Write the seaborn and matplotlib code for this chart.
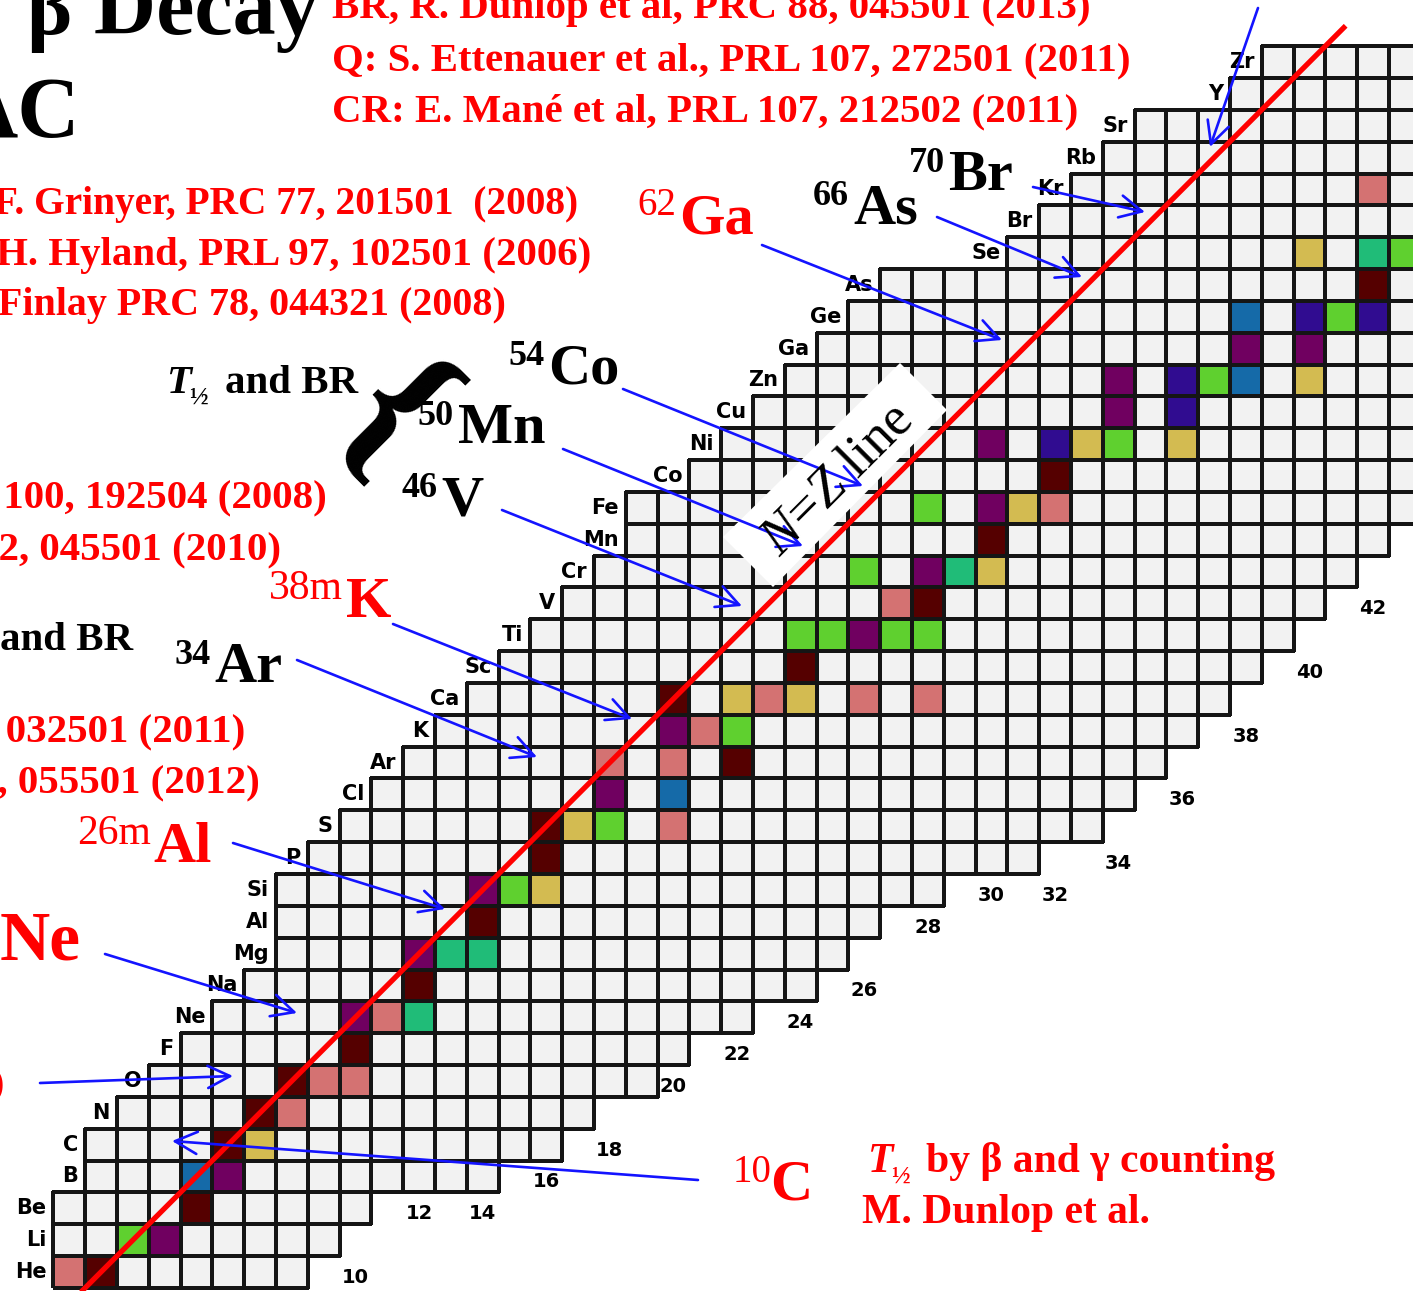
import matplotlib
matplotlib.use("Agg")  # headless
import matplotlib.pyplot as plt
import numpy as np
import pandas as pd
import seaborn as sns
from matplotlib.colors import ListedColormap, to_rgba
from matplotlib.patches import Polygon

# ---------------------------------------------------------------------------
# Chart of nuclides: one row per element Z, first/last neutron number N
# ---------------------------------------------------------------------------
ELEMENTS = ["He", "Li", "Be", "B", "C", "N", "O", "F", "Ne", "Na", "Mg", "Al",
            "Si", "P", "S", "Cl", "Ar", "K", "Ca", "Sc", "Ti", "V", "Cr", "Mn",
            "Fe", "Co", "Ni", "Cu", "Zn", "Ga", "Ge", "As", "Se", "Br", "Kr",
            "Rb", "Sr", "Y", "Zr"]
Z_VALUES = list(range(2, 41))
ROW_MIN_N = [1, 1, 1, 2, 2, 3, 4, 5, 6, 7, 8, 8, 8, 9, 10, 11, 12, 13, 14, 15,
             16, 17, 18, 19, 19, 21, 22, 23, 24, 25, 26, 27, 31, 32, 33, 34,
             35, 38, 39]
ROW_MAX_N = [8, 9, 10, 14, 16, 17, 19, 20, 22, 24, 25, 26, 28, 31, 33, 34, 35,
             36, 37, 38, 39, 40, 41, 42] + [44] * 15

# neutron-number labels along the lower edge: N and the row they sit on
NEUTRON_LABELS = [10, 12, 14, 16, 18, 20, 22, 24, 26, 28, 30, 32, 34, 36, 38, 40, 42]
NEUTRON_LABEL_ROW = [2, 4, 4, 5, 6, 8, 9, 10, 11, 13, 14, 14, 15, 17, 19, 21, 23]

# coloured cells, (Z, N)
PINK = [(2, 1), (7, 8), (8, 9), (8, 10), (10, 11), (16, 20), (18, 18), (18, 20),
        (19, 21), (20, 23), (20, 26), (20, 28), (23, 27), (26, 32), (36, 42)]
DARK = [(2, 2), (4, 5), (6, 6), (7, 7), (8, 8), (9, 10), (11, 12), (13, 14),
        (15, 16), (16, 16), (18, 22), (20, 20), (21, 24), (23, 28), (25, 30),
        (27, 32), (33, 42)]
PURPLE = [(3, 4), (5, 6), (10, 10), (12, 12), (14, 14), (17, 18), (19, 20),
          (22, 26), (24, 28), (26, 30), (28, 30), (29, 34), (30, 34), (31, 38),
          (31, 40)]
GREEN = [(3, 3), (14, 15), (16, 18), (19, 22), (22, 24), (22, 25), (22, 27),
         (22, 28), (24, 26), (26, 28), (28, 34), (30, 37), (32, 41), (34, 43)]
TEAL = [(10, 12), (12, 13), (12, 14), (24, 29), (34, 42)]
BLUE_CELLS = [(5, 5), (17, 20), (30, 38), (32, 38)]
INDIGO = [(28, 32), (29, 36), (30, 36), (32, 40), (32, 42)]
YELLOW = [(6, 7), (14, 16), (16, 17), (20, 22), (20, 24), (24, 30), (26, 31),
          (28, 33), (28, 36), (30, 40), (34, 40)]

CATEGORIES = [PINK, DARK, PURPLE, GREEN, TEAL, BLUE_CELLS, INDIGO, YELLOW]
CELL_COLORS = ["#f2f2f2", "#d47272", "#550000", "#700060", "#5fd02f",
               "#20bc78", "#156aa8", "#300c90", "#d3bb51"]

NZ_LINE = [1.34, 41.14]  # extent of the N = Z line, in N

# ---------------------------------------------------------------------------
# Geometry (pixels)
# ---------------------------------------------------------------------------
W, H, DPI = 1413, 1291, 100
X2_PX, Y2_PX = 101.0, 1272.0   # centre of cell N=2, Z=2
CW, CH = 31.8, 31.84           # cell size
RED = "#ff0000"
BLUE = "#1414ff"
GRID = "#151515"

# grid table
grid = np.full((42, 45), np.nan)
for z, lo, hi in zip(Z_VALUES, ROW_MIN_N, ROW_MAX_N):
    grid[z, lo:hi + 1] = 0
for code, cells in enumerate(CATEGORIES, start=1):
    for z, n in cells:
        grid[z, n] = code
df = pd.DataFrame(grid)

sns.set_theme(style="white")
plt.rcParams["font.family"] = ["Liberation Serif", "DejaVu Serif"]
plt.rcParams["mathtext.fontset"] = "custom"
plt.rcParams["mathtext.rm"] = "Liberation Serif"
plt.rcParams["mathtext.it"] = "Liberation Serif:italic"

fig = plt.figure(figsize=(W / DPI, H / DPI), dpi=DPI)
ax = fig.add_axes([0, 0, 1, 1])
sns.heatmap(df, ax=ax, mask=df.isna(), cmap=ListedColormap(CELL_COLORS),
            vmin=-0.5, vmax=len(CELL_COLORS) - 0.5, cbar=False,
            linewidths=1.5, linecolor=GRID, xticklabels=False, yticklabels=False)
# no outline for cells that do not exist
mesh = ax.collections[0]
edges = np.tile(to_rgba(GRID), (grid.size, 1))
edges[np.isnan(grid).ravel(), 3] = 0
mesh.set_edgecolor(edges)

ax.set_xlim(2.5 - X2_PX / CW, 2.5 + (W - X2_PX) / CW)
ax.set_ylim(2.5 - (H - Y2_PX) / CH, 2.5 + Y2_PX / CH)
ax.set_axis_off()

# element symbols left of each row, neutron numbers under the columns
for sym, z, lo in zip(ELEMENTS, Z_VALUES, ROW_MIN_N):
    ax.text(lo - 0.22, z + 0.5, sym, ha="right", va="center", fontsize=15,
            fontweight="bold", family="DejaVu Sans", color="black")
for n, z in zip(NEUTRON_LABELS, NEUTRON_LABEL_ROW):
    ax.text(n + 0.5, z + 0.33, str(n), ha="center", va="center", fontsize=14,
            fontweight="bold", family="DejaVu Sans", color="black")

# ---------------------------------------------------------------------------
# Overlay in pixel units for the slide annotations
# ---------------------------------------------------------------------------
ax2 = fig.add_axes([0, 0, 1, 1])
ax2.set_xlim(0, W)
ax2.set_ylim(H, 0)
ax2.set_axis_off()

ax2.plot(np.array(NZ_LINE) + 0.5, np.array(NZ_LINE) + 0.5, color=RED, lw=3.8,
         transform=ax.transData, solid_capstyle="butt", zorder=3)

# white label box along the N = Z line
ax2.add_patch(Polygon([(723, 537), (900, 363), (947, 410), (773, 587)],
                      closed=True, facecolor="white", edgecolor="none", zorder=2))
ax2.text(838, 480, r"$N$=$Z$ line", rotation=45, rotation_mode="anchor",
         ha="center", va="center", fontsize=39, color="black", zorder=4)

# title (cut at the left edge of the slide)
ax2.text(319, 34, "β Decay", ha="right", va="baseline",
         fontsize=62, fontweight="bold", color="black")
ax2.text(80, 137, "AC", ha="right", va="baseline",
         fontsize=62, fontweight="bold", color="black")

REF_SIZE = 29.4
for txt, y in [("BR, R. Dunlop et al, PRC 88, 045501 (2013)", 18),
               ("Q: S. Ettenauer et al., PRL 107, 272501 (2011)", 70),
               ("CR: E. Mané et al, PRL 107, 212502 (2011)", 121)]:
    ax2.text(332, y, txt, ha="left", va="baseline", fontsize=REF_SIZE,
             fontweight="bold", color=RED)

# references whose beginning is cut by the slide edge
for txt, x, y, size in [("F. Grinyer, PRC 77, 201501  (2008)", -6, 214, 28.4),
                        ("H. Hyland, PRL 97, 102501 (2006)", -4, 265, REF_SIZE),
                        ("Finlay PRC 78, 044321 (2008)", -2, 315, 28.8)]:
    ax2.text(x, y, txt, ha="left", va="baseline", fontsize=size,
             fontweight="bold", color=RED)
for txt, x, y in [("L 100, 192504 (2008)", 327, 508),
                  ("32, 045501 (2010)", 281, 560),
                  ("4, 032501 (2011)", 245, 742),
                  ("5, 055501 (2012)", 260, 793)]:
    ax2.text(x, y, txt, ha="right", va="baseline", fontsize=REF_SIZE,
             fontweight="bold", color=RED)

ax2.text(133, 650, "and BR", ha="right", va="baseline", fontsize=REF_SIZE,
         fontweight="bold", color="black")

# T1/2 and BR with the brace
ax2.text(166, 393, "T", ha="left", va="baseline", fontsize=REF_SIZE,
         fontweight="bold", style="italic", color="black")
ax2.text(189, 404, "½", ha="left", va="baseline", fontsize=18,
         fontweight="bold", color="black")
ax2.text(225, 393, "and BR", ha="left", va="baseline", fontsize=REF_SIZE,
         fontweight="bold", color="black")
ax2.text(389, 421, "{", rotation=-45, rotation_mode="anchor", ha="center",
         va="center", fontsize=132, fontweight="bold", color="black")

# bottom note
ax2.text(868, 1172, "T", ha="left", va="baseline", fontsize=30,
         fontweight="bold", style="italic", color=RED)
ax2.text(891, 1183, "½", ha="left", va="baseline", fontsize=18,
         fontweight="bold", color=RED)
ax2.text(926, 1172, "by β and γ counting", ha="left", va="baseline",
         fontsize=30, fontweight="bold", color=RED)
ax2.text(862, 1223, "M. Dunlop et al.", ha="left", va="baseline",
         fontsize=30, fontweight="bold", color=RED)


def nuclide(mass, sym, x_mass, x_sym, base, color, sym_size=42, mass_size=26):
    weight = "bold" if color == "black" else "normal"
    ax2.text(x_mass, base - 18, mass, ha="left", va="baseline",
             fontsize=mass_size, fontweight=weight, color=color)
    ax2.text(x_sym, base, sym, ha="left", va="baseline", fontsize=sym_size,
             fontweight="bold", color=color)


nuclide("54", "Co", 508, 548, 383, "black")
nuclide("50", "Mn", 417, 458, 443, "black")
nuclide("46", "V", 402, 441, 515, "black")
nuclide("34", "Ar", 174, 214, 682, "black")
nuclide("66", "As", 813, 853, 223, "black")
nuclide("70", "Br", 909, 948, 190, "black")
nuclide("62", "Ga", 637, 679, 233, RED, mass_size=28)
nuclide("38m", "K", 269, 346, 617, RED, mass_size=30)
nuclide("26m", "Al", 77, 153, 862, RED, mass_size=30)
nuclide("18", "Ne", -42, 0, 960, RED, sym_size=50, mass_size=28)
nuclide("14", "O", -80, -41, 1103, RED)
nuclide("10", "C", 733, 770, 1200, RED, mass_size=28)

ARROWS = [((698, 1180), (172, 1141)), ((40, 1083), (233, 1076)),
          ((105, 954), (297, 1013)), ((233, 843), (445, 909)),
          ((297, 660), (537, 757)), ((393, 624), (632, 719)),
          ((502, 510), (742, 606)), ((563, 449), (803, 546)),
          ((623, 389), (863, 486)), ((762, 245), (1002, 340)),
          ((937, 217), (1082, 277)), ((1033, 187), (1145, 212)),
          ((1258, 8), (1210, 147))]
for tail, tip in ARROWS:
    ax2.annotate("", xy=tip, xytext=tail,
                 arrowprops=dict(arrowstyle="->", color=BLUE, lw=1.9,
                                 mutation_scale=40, shrinkA=0, shrinkB=0))

fig.savefig("out.png", dpi=DPI)
